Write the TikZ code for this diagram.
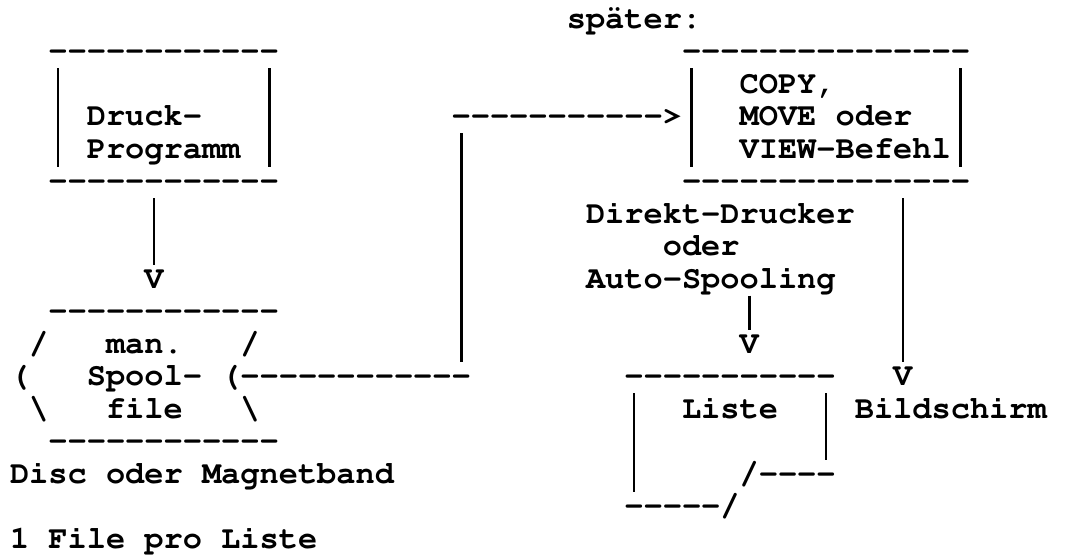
\documentclass[tikz,border=0pt]{standalone}
\usepackage[T1]{fontenc}
\tikzset{
  tt/.style={font=\fontfamily{pcr}\fontseries{b}\fontshape{n}\fontsize{32}{32}\selectfont, inner sep=0pt, outer sep=0pt, anchor=base west, text=black},
  bar/.style={line width=2.6pt, black},
}
\newcommand\colx[1]{(10+19.2*(#1))}
\newcommand\rowy[1]{(28+32.5*(#1))}
\newcommand\T[4]{\node[tt] (#1) at ({10+19.2*(#2)},{28+32.5*(#3)}) {#4};}
\newcommand\dashes[1]{\foreach \i in {1,...,#1}{-\kern0pt}}
\newcommand\vbar[4]{%
  \coordinate (#1a) at ({10+19.2*(#2)+9.6},{28+32.5*(#3)-25});
  \coordinate (#1b) at ({10+19.2*(#2)+9.6},{28+32.5*(#4)+9});
  \draw[bar] (#1a) -- (#1b);}
\begin{document}
\begin{tikzpicture}[x=1pt,y=-1pt]
\useasboundingbox[fill=white] (0,0) rectangle (1065,555);
% texts
\T{later}{29}{0}{später:}
\T{ta}{2}{1}{\dashes{12}}
\T{tb}{35}{1}{\dashes{15}}
\T{copy}{38}{2}{COPY,}
\T{druck}{4}{3}{Druck-}
\T{arr}{23}{3}{\dashes{11}>}
\T{move}{38}{3}{MOVE oder}
\T{prog}{4}{4}{Programm}
\T{view}{38}{4}{VIEW-Befehl}
\T{ba}{2}{5}{\dashes{12}}
\T{bb}{35}{5}{\dashes{15}}
\T{direkt}{30}{6}{Direkt-Drucker}
\T{oder}{34}{7}{oder}
\T{auto}{30}{8}{Auto-Spooling}
\T{v1}{7}{8}{V}
\T{sa}{2}{9}{\dashes{12}}
\T{sl1}{1}{10}{/}
\T{man}{5}{10}{man.}
\T{sl2}{12}{10}{/}
\T{v2}{38}{10}{V}
\T{p1}{0}{11}{(}
\T{spool}{4}{11}{Spool-}
\T{p2}{11}{11}{(\dashes{12}}
\T{la}{32}{11}{\dashes{11}}
\T{v3}{46}{11}{V}
\T{bs1}{1}{12}{\textbackslash}
\T{file}{5}{12}{f\kern0pt ile}
\T{bs2}{12}{12}{\textbackslash}
\T{liste}{35}{12}{Liste}
\T{bild}{44}{12}{Bildschirm}
\T{sb}{2}{13}{\dashes{12}}
\T{disc}{0}{14}{Disc oder Magnetband}
\T{lc}{38}{14}{/\dashes{4}}
\T{ld}{32}{15}{\dashes{5}/}
\T{one}{0}{16}{1 File pro Liste}
% vertical bars
\vbar{l1}{2}{2}{4}
\vbar{l2}{13}{2}{4}
\vbar{r1}{35}{2}{4}
\vbar{r2}{49}{2}{4}
\vbar{d1}{7}{6}{7}
\vbar{m1}{23}{4}{10}
\vbar{s1}{46}{6}{10}
\vbar{a1}{38}{9}{9}
\vbar{q1}{32}{12}{14}
\vbar{q2}{42}{12}{13}
\end{tikzpicture}
\end{document}
